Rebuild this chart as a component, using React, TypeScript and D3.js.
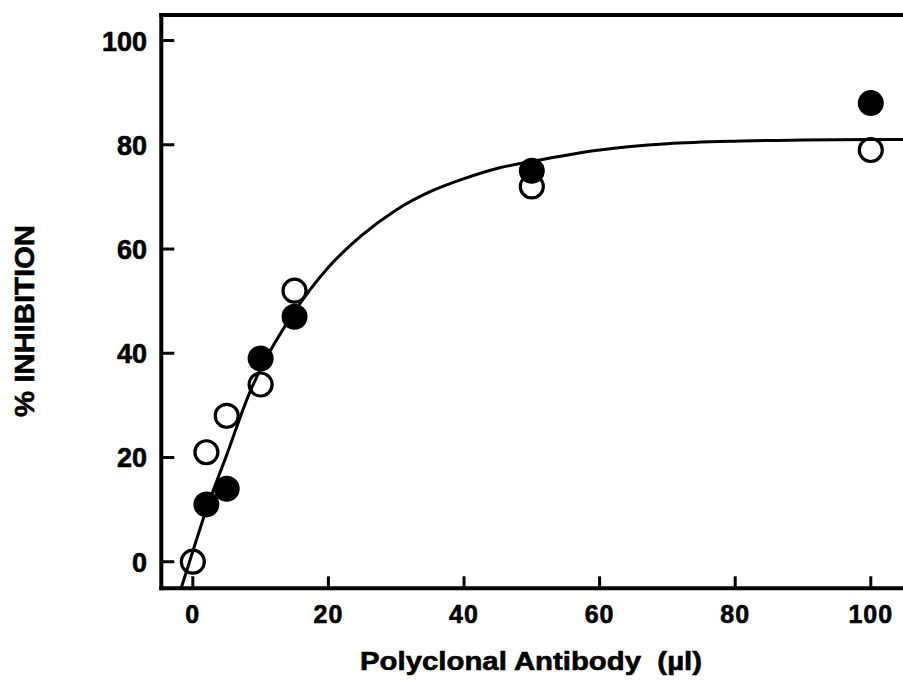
import React from "react";
import * as d3 from "d3";

// Data
const filledX = [2, 5, 10, 15, 50, 100];
const filledY = [11, 14, 39, 47, 75, 88];
const openX = [0, 2, 5, 10, 15, 50, 100];
const openY = [0, 21, 28, 34, 52, 72, 79];

// Fitted curve
const curveX = [-1.7, 0, 2, 5, 8.4, 10, 15, 20, 25, 30, 35, 40, 45, 50, 60, 70, 80, 90, 100, 104.75];
const curveY = [-5, 2, 10, 20.5, 32.5, 37, 48, 56.5, 62.7, 67.5, 71, 73.5, 75.5, 76.8, 79, 80.2, 80.7, 80.9, 81, 81];

const xTicks = [0, 20, 40, 60, 80, 100];
const yTicks = [0, 20, 40, 60, 80, 100];

const xTitle = "Polyclonal Antibody  (\u00b5l)";
const yTitle = "% INHIBITION";

const W = 903;
const H = 681;
const FONT = "'Liberation Sans', Arial, Helvetica, sans-serif";

export default function App() {
  const x = d3.scaleLinear().domain([-4.65, 104.75]).range([161.3, 903]);
  const y = d3.scaleLinear().domain([-5.1, 104.9]).range([588.3, 15]);

  const left = x(-4.65);
  const right = x(104.75);
  const top = y(104.9);
  const bottom = y(-5.1);

  const pts = curveX.map((v, i) => [v, curveY[i]] as [number, number]);
  const line = d3
    .line<[number, number]>()
    .x((d) => x(d[0]))
    .y((d) => y(d[1]))
    .curve(d3.curveMonotoneX);

  const textStyle = {
    fontFamily: FONT,
    fontWeight: "bold" as const,
    fill: "#000",
    stroke: "#000",
    strokeWidth: 0.6,
  };

  return (
    <svg
      width={W}
      height={H}
      style={{ position: "absolute", left: 0, top: 0, background: "#fff" }}
    >
      <rect x={0} y={0} width={W} height={H} fill="#fff" />
      <defs>
        <clipPath id="plot">
          <rect x={left} y={top} width={right - left} height={bottom - top} />
        </clipPath>
      </defs>

      {/* curve */}
      <path
        d={line(pts) || ""}
        fill="none"
        stroke="#000"
        strokeWidth={3}
        clipPath="url(#plot)"
      />

      {/* filled points */}
      {filledX.map((v, i) => (
        <circle key={"f" + i} cx={x(v)} cy={y(filledY[i])} r={13} fill="#000" />
      ))}
      {/* open points */}
      {openX.map((v, i) => (
        <circle
          key={"o" + i}
          cx={x(v)}
          cy={y(openY[i])}
          r={11.5}
          fill="none"
          stroke="#000"
          strokeWidth={3.2}
        />
      ))}

      {/* axes frame */}
      <line x1={left} x2={left} y1={top - 2} y2={bottom + 2} stroke="#000" strokeWidth={4} />
      <line x1={left - 2} x2={W} y1={top} y2={top} stroke="#000" strokeWidth={4} />
      <line x1={left - 2} x2={W} y1={bottom} y2={bottom} stroke="#000" strokeWidth={4} />

      {/* y ticks */}
      {yTicks.map((t) => (
        <g key={"yt" + t}>
          <line x1={left} x2={left + 13} y1={y(t)} y2={y(t)} stroke="#000" strokeWidth={3} />
          <text x={147} y={y(t) + 10} textAnchor="end" fontSize={27} {...textStyle}>
            {t}
          </text>
        </g>
      ))}

      {/* x ticks */}
      {xTicks.map((t) => (
        <g key={"xt" + t}>
          <line x1={x(t)} x2={x(t)} y1={bottom} y2={bottom - 12} stroke="#000" strokeWidth={3} />
          <text
            x={x(t)}
            y={623}
            textAnchor="middle"
            fontSize={25}
            letterSpacing={1}
            {...textStyle}
          >
            {t}
          </text>
        </g>
      ))}

      {/* axis titles */}
      <text
        x={360}
        y={670}
        fontSize={26}
        textLength={342}
        lengthAdjust="spacingAndGlyphs"
        style={{ whiteSpace: "pre" }}
        {...textStyle}
      >
        {xTitle}
      </text>
      <text
        transform={`translate(33.5, 321) rotate(-90)`}
        x={0}
        y={0}
        textAnchor="middle"
        fontSize={27}
        textLength={192}
        lengthAdjust="spacingAndGlyphs"
        {...textStyle}
      >
        {yTitle}
      </text>
    </svg>
  );
}
